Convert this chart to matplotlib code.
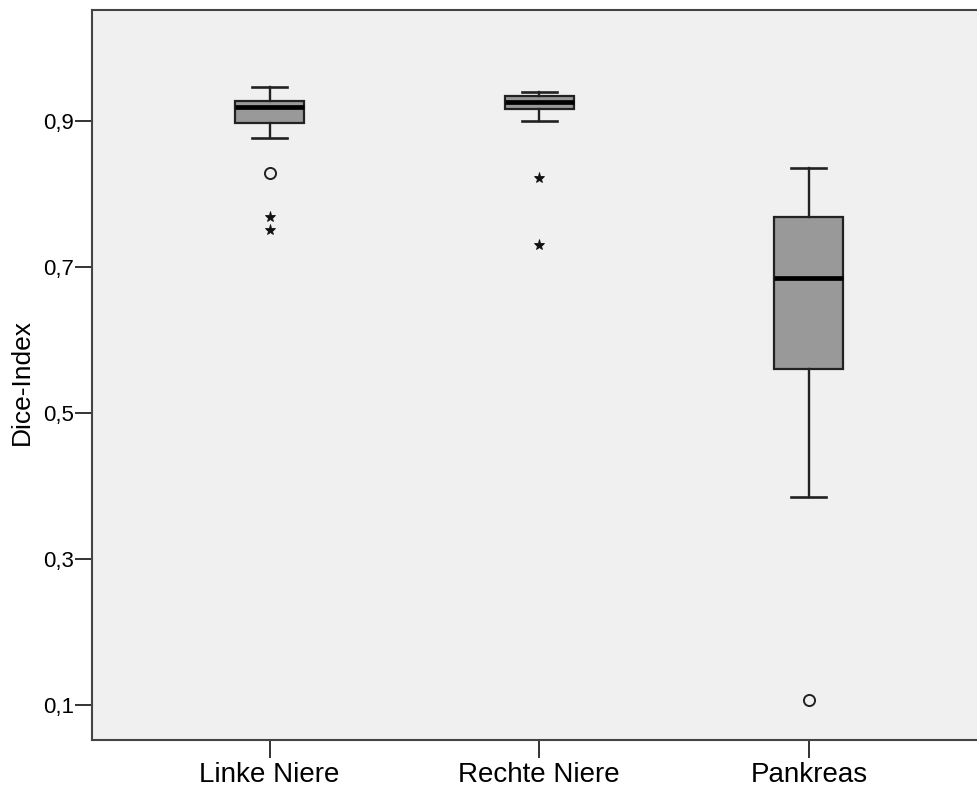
import matplotlib.pyplot as plt
from matplotlib.ticker import FixedLocator

plt.rcParams['font.family'] = ['Liberation Sans', 'DejaVu Sans']

organs = ["Linke Niere", "Rechte Niere", "Pankreas"]
q1 = [0.897, 0.916, 0.560]
median = [0.918, 0.926, 0.685]
q3 = [0.927, 0.933, 0.768]
whisker_low = [0.876, 0.900, 0.385]
whisker_high = [0.946, 0.939, 0.835]
outliers = [[0.828], [], [0.107]]
extremes = [[0.768, 0.750], [0.822, 0.729], []]
yticks = [0.1, 0.3, 0.5, 0.7, 0.9]
ytick_labels = ["0,1", "0,3", "0,5", "0,7", "0,9"]

fig = plt.figure(figsize=(9.78, 7.89), dpi=100)
ax = fig.add_axes([0.094, 0.062, 0.906, 0.925])
ax.set_facecolor("#f0f0f0")

stats = []
for i, name in enumerate(organs):
    stats.append(dict(label=name, q1=q1[i], med=median[i], q3=q3[i],
                      whislo=whisker_low[i], whishi=whisker_high[i], fliers=[]))

pos = [1, 2, 3]
ax.bxp(stats, positions=pos, widths=0.256, capwidths=0.13,
       showfliers=False, patch_artist=True,
       boxprops=dict(facecolor="#999999", edgecolor="#222222", linewidth=1.6),
       medianprops=dict(color="black", linewidth=3.4),
       whiskerprops=dict(color="#222222", linewidth=1.7),
       capprops=dict(color="#222222", linewidth=1.9))

# circles = outliers, stars = extreme values
for p, vals in zip(pos, outliers):
    if vals:
        ax.plot([p] * len(vals), vals, linestyle="none", marker="o",
                markersize=8, markerfacecolor="none",
                markeredgecolor="#222222", markeredgewidth=1.4)
for p, vals in zip(pos, extremes):
    if vals:
        ax.plot([p] * len(vals), vals, linestyle="none", marker="*",
                markersize=8, color="#111111", markeredgewidth=0.6)

ax.set_xlim(0.341, 3.627)
ax.set_ylim(0.052, 1.051)
ax.yaxis.set_major_locator(FixedLocator(yticks))
ax.set_yticklabels(ytick_labels)
ax.set_xticks(pos)
ax.set_xticklabels(organs)

for side in ["left", "top", "bottom"]:
    ax.spines[side].set_color("#444444")
    ax.spines[side].set_linewidth(1.5)
ax.spines["right"].set_visible(False)

ax.tick_params(axis="y", length=12, width=1.4, color="#333333",
               labelsize=16, pad=1)
ax.tick_params(axis="x", length=13, width=1.4, color="#333333",
               labelsize=20, pad=3)
ax.set_ylabel("Dice-Index", fontsize=19)
ax.yaxis.set_label_coords(-0.066, 0.49)

fig.savefig("out.png", dpi=100)
